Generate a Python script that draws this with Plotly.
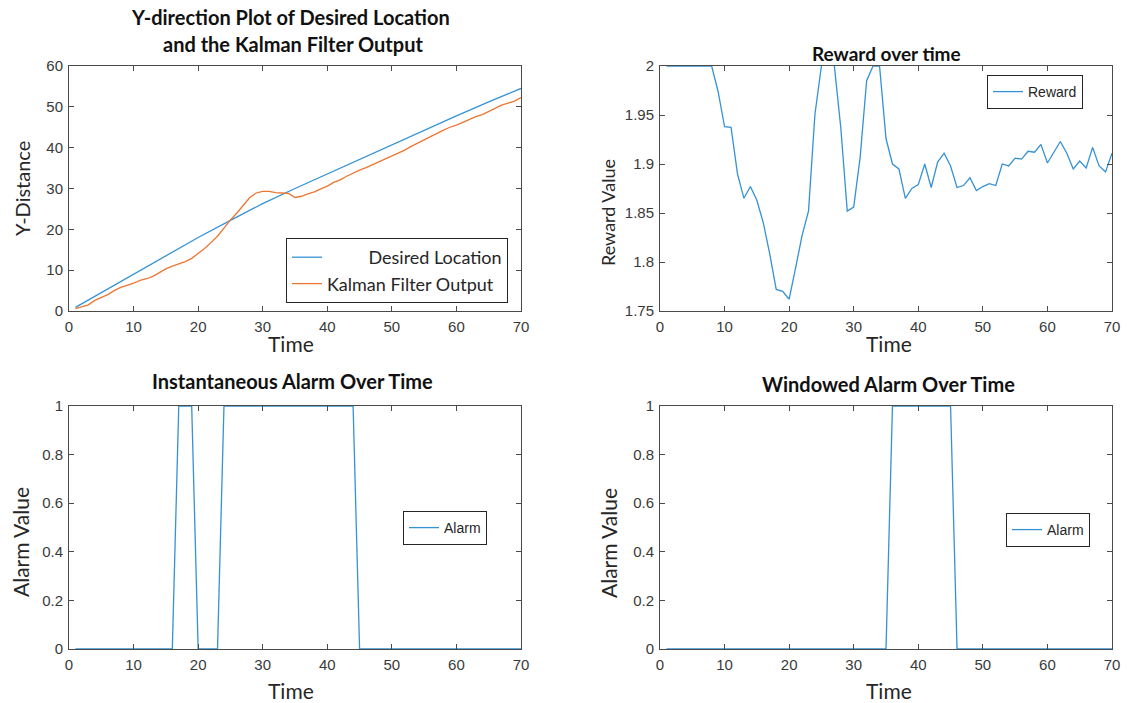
import plotly.graph_objects as go

# ---------------- data ----------------
t = list(range(1, 71))

desired_t = [1, 5, 10, 15, 20, 25, 30, 35, 40, 45, 50, 55, 60, 65, 70]
desired_y = [0.9, 4.5, 9.0, 13.5, 18.0, 22.2, 26.3, 30.0, 33.6, 37.1, 40.8, 44.3, 47.8, 51.2, 54.5]

kalman_y = [0.6, 1.0, 1.5, 2.6, 3.3, 4.0, 5.0, 5.8, 6.3, 6.8,
            7.5, 7.9, 8.5, 9.5, 10.3, 11.0, 11.5, 12.1, 12.9, 14.0,
            15.3, 16.8, 18.3, 20.3, 22.3, 24.0, 25.8, 27.8, 28.9, 29.3,
            29.3, 29.0, 28.9, 28.8, 27.8, 28.1, 28.7, 29.2, 29.9, 30.6,
            31.5, 32.1, 33.0, 33.8, 34.5, 35.1, 35.8, 36.5, 37.2, 37.9,
            38.7, 39.4, 40.3, 41.0, 41.9, 42.7, 43.6, 44.3, 45.0, 45.5,
            46.2, 47.0, 47.6, 48.1, 48.8, 49.6, 50.4, 50.9, 51.4, 52.3]

reward = [2.0, 2.0, 2.0, 2.0, 2.0, 2.0, 2.0, 2.0, 1.974, 1.938,
          1.9375, 1.890, 1.865, 1.877, 1.863, 1.840, 1.808, 1.772, 1.770, 1.762,
          1.794, 1.827, 1.852, 1.951, 2.0, 2.01, 2.0, 1.937, 1.852, 1.856,
          1.907, 1.985, 2.0, 2.0, 1.926, 1.900, 1.895, 1.865, 1.875, 1.879,
          1.900, 1.876, 1.902, 1.911, 1.898, 1.876, 1.878, 1.886, 1.873, 1.877,
          1.880, 1.878, 1.900, 1.898, 1.906, 1.905, 1.913, 1.912, 1.920, 1.901,
          1.912, 1.923, 1.911, 1.895, 1.903, 1.896, 1.917, 1.898, 1.892, 1.911]

inst_alarm = [0, 0, 0, 0, 0, 0, 0, 0, 0, 0,
              0, 0, 0, 0, 0, 0, 1, 1, 1, 0,
              0, 0, 0, 1, 1, 1, 1, 1, 1, 1,
              1, 1, 1, 1, 1, 1, 1, 1, 1, 1,
              1, 1, 1, 1, 0, 0, 0, 0, 0, 0,
              0, 0, 0, 0, 0, 0, 0, 0, 0, 0,
              0, 0, 0, 0, 0, 0, 0, 0, 0, 0]

win_alarm = [0, 0, 0, 0, 0, 0, 0, 0, 0, 0,
             0, 0, 0, 0, 0, 0, 0, 0, 0, 0,
             0, 0, 0, 0, 0, 0, 0, 0, 0, 0,
             0, 0, 0, 0, 0, 1, 1, 1, 1, 1,
             1, 1, 1, 1, 1, 0, 0, 0, 0, 0,
             0, 0, 0, 0, 0, 0, 0, 0, 0, 0,
             0, 0, 0, 0, 0, 0, 0, 0, 0, 0]

x_ticks = [0, 10, 20, 30, 40, 50, 60, 70]
y1_ticks = [0, 10, 20, 30, 40, 50, 60]
y2_ticks = [1.75, 1.8, 1.85, 1.9, 1.95, 2]
y2_labels = ["1.75", "1.8", "1.85", "1.9", "1.95", "2"]
alarm_ticks = [0, 0.2, 0.4, 0.6, 0.8, 1]
alarm_labels = ["0", "0.2", "0.4", "0.6", "0.8", "1"]

# ---------------- style ----------------
W, H = 1127, 703
BLUE = "#3592D5"
ORANGE = "#EC7633"
AXC = "#4a4a4a"
TXT = "#262626"
TICKFONT = dict(family="Liberation Sans, Arial, sans-serif", size=15, color="#3a3a3a")
LATO = "Lato, Open Sans, sans-serif"
ARIAL = "Liberation Sans, Arial, sans-serif"


def px_x(p):
    return p / W


def px_y(p):
    return 1 - p / H


left_dom = [px_x(69), px_x(521)]
right_dom = [px_x(660), px_x(1112)]
top_dom = [px_y(311), px_y(66)]
bot_dom = [px_y(649), px_y(406)]

fig = go.Figure()

fig.add_trace(go.Scatter(x=desired_t, y=desired_y, mode="lines",
                         name="\u00a0" * 9 + "Desired Location",
                         line=dict(color=BLUE, width=1.3),
                         xaxis="x", yaxis="y", legend="legend"))
fig.add_trace(go.Scatter(x=t, y=kalman_y, mode="lines", name="Kalman Filter Output",
                         line=dict(color=ORANGE, width=1.3),
                         xaxis="x", yaxis="y", legend="legend"))
fig.add_trace(go.Scatter(x=t, y=reward, mode="lines", name="Reward",
                         line=dict(color=BLUE, width=1.3),
                         xaxis="x2", yaxis="y2", legend="legend2"))
fig.add_trace(go.Scatter(x=t, y=inst_alarm, mode="lines", name="Alarm",
                         line=dict(color=BLUE, width=1.3),
                         xaxis="x3", yaxis="y3", legend="legend3"))
fig.add_trace(go.Scatter(x=t, y=win_alarm, mode="lines", name="Alarm",
                         line=dict(color=BLUE, width=1.3),
                         xaxis="x4", yaxis="y4", legend="legend4"))


def axis(domain, anchor, rng, tickvals, ticktext=None):
    d = dict(domain=domain, anchor=anchor, range=rng, tickvals=tickvals,
             showline=True, linecolor=AXC, linewidth=1, mirror="ticks",
             ticks="inside", ticklen=5, tickcolor=AXC, tickwidth=1,
             showgrid=False, zeroline=False, tickfont=TICKFONT, ticklabelstandoff=2,
             automargin=False)
    if ticktext is not None:
        d["ticktext"] = ticktext
    return d


legend_common = dict(bgcolor="white", bordercolor="#262626", borderwidth=1,
                     xref="paper", yref="paper", tracegroupgap=0,
                     itemwidth=30)

fig.update_layout(
    width=W, height=H,
    margin=dict(l=0, r=0, t=0, b=0),
    paper_bgcolor="white", plot_bgcolor="white",
    showlegend=True,
    xaxis=axis(left_dom, "y", [0, 70], x_ticks),
    yaxis=axis(top_dom, "x", [0, 60], y1_ticks),
    xaxis2=axis(right_dom, "y2", [0, 70], x_ticks),
    yaxis2=axis(top_dom, "x2", [1.75, 2], y2_ticks, y2_labels),
    xaxis3=axis(left_dom, "y3", [0, 70], x_ticks),
    yaxis3=axis(bot_dom, "x3", [0, 1], alarm_ticks, alarm_labels),
    xaxis4=axis(right_dom, "y4", [0, 70], x_ticks),
    yaxis4=axis(bot_dom, "x4", [0, 1], alarm_ticks, alarm_labels),
    legend=dict(legend_common, x=px_x(508), y=px_y(303), xanchor="right", yanchor="bottom",
                font=dict(family=LATO, size=18, color=TXT)),
    legend2=dict(legend_common, x=px_x(1035), y=px_y(92), xanchor="center", yanchor="middle",
                 font=dict(family=ARIAL, size=14, color=TXT)),
    legend3=dict(legend_common, x=px_x(445), y=px_y(528), xanchor="center", yanchor="middle",
                 font=dict(family=ARIAL, size=14, color=TXT)),
    legend4=dict(legend_common, x=px_x(1048), y=px_y(530), xanchor="center", yanchor="middle",
                 font=dict(family=ARIAL, size=14, color=TXT)),
)

annotations = []
titles = [
    ("<b>Y-direction Plot of Desired Location</b>", 290, 17, 20),
    ("<b>and the Kalman Filter Output</b>", 293, 44, 20),
    ("<b>Reward over time</b>", 887, 54, 19),
    ("<b>Instantaneous Alarm Over Time</b>", 292, 381, 20),
    ("<b>Windowed Alarm Over Time</b>", 888, 384, 20),
]
for text, x, y, size in titles:
    annotations.append(dict(text=text, x=px_x(x), y=px_y(y), xref="paper", yref="paper",
                            xanchor="center", yanchor="middle", showarrow=False,
                            font=dict(family=LATO, size=size, color="#111111")))

labels = [
    ("Time", 291, 343, 0, 21),
    ("Time", 889, 343, 0, 21),
    ("Time", 291, 690, 0, 21),
    ("Time", 889, 690, 0, 21),
    ("Y-Distance", 22, 189, -90, 20),
    ("Reward Value", 608, 213, -90, 18),
    ("Alarm Value", 20, 542, -90, 21),
    ("Alarm Value", 608, 543, -90, 21),
]
for text, x, y, ang, size in labels:
    annotations.append(dict(text=text, x=px_x(x), y=px_y(y), xref="paper", yref="paper",
                            xanchor="center", yanchor="middle", showarrow=False,
                            textangle=ang, font=dict(family=LATO, size=size, color=TXT)))

fig.update_layout(annotations=annotations)

fig.write_html("out.html")
